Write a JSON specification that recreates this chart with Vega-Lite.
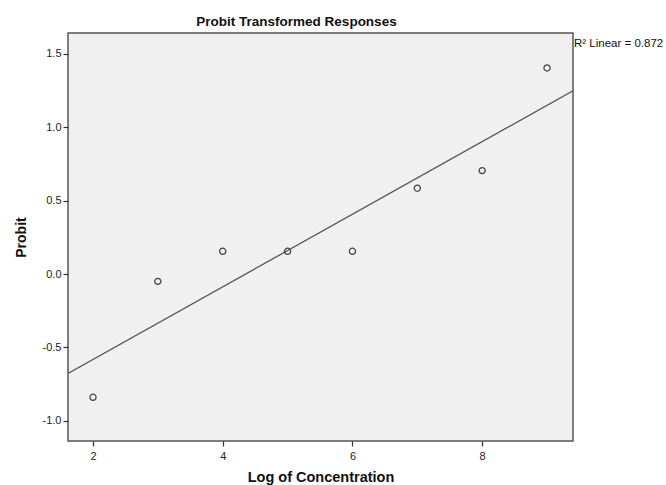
{
  "$schema": "https://vega.github.io/schema/vega-lite/v6.json",
  "autosize": "none",
  "width": 505,
  "height": 408,
  "padding": {"left": 68, "top": 33, "right": 93, "bottom": 44},
  "background": "white",
  "config": {
    "font": "Liberation Sans",
    "view": {"fill": "#F0F0F0", "stroke": "#555555", "strokeWidth": 1.5},
    "axis": {"grid": false, "domain": false, "tickColor": "#333333", "tickSize": 5, "tickWidth": 1.2, "labelColor": "#222222", "labelFontSize": 11, "labelFont": "Liberation Sans", "titleFont": "Liberation Sans", "titleFontWeight": "bold", "titleColor": "#111111", "titleFontSize": 14}
  },
  "title": {"text": "Probit Transformed Responses", "fontSize": 13.5, "font": "Liberation Sans", "fontWeight": "bold", "color": "#111111", "anchor": "middle", "dx": -24, "offset": 5},
  "data": {"values": [
    {"x": 2, "y": -0.84},
    {"x": 3, "y": -0.05},
    {"x": 4, "y": 0.155},
    {"x": 5, "y": 0.155},
    {"x": 6, "y": 0.155},
    {"x": 7, "y": 0.585},
    {"x": 8, "y": 0.705},
    {"x": 9, "y": 1.405}
  ]},
  "layer": [
    {
      "transform": [{"regression": "y", "on": "x", "extent": [1.615, 9.4]}],
      "mark": {"type": "line", "color": "#555555", "strokeWidth": 1.3, "clip": true},
      "encoding": {
        "x": {"field": "x", "type": "quantitative"},
        "y": {"field": "y", "type": "quantitative"}
      }
    },
    {
      "mark": {"type": "point", "shape": "circle", "filled": false, "size": 38, "stroke": "#444444", "strokeWidth": 1.3, "opacity": 1},
      "encoding": {
        "x": {"field": "x", "type": "quantitative", "scale": {"domain": [1.615, 9.4], "nice": false, "zero": false}, "axis": {"values": [2, 4, 6, 8], "format": "d", "title": "Log of Concentration", "titlePadding": 9, "labelPadding": 4, "titleFontSize": 14.5}},
        "y": {"field": "y", "type": "quantitative", "scale": {"domain": [-1.138, 1.643], "nice": false, "zero": false}, "axis": {"values": [-1.0, -0.5, 0.0, 0.5, 1.0, 1.5], "format": ".1f", "labelExpr": "replace(datum.label, '\u2212', '-')", "title": "Probit", "titlePadding": 14, "labelPadding": 2}}
      }
    },
    {
      "data": {"values": [{"label": "R\u00b2 Linear = 0.872"}]},
      "mark": {"type": "text", "align": "left", "baseline": "middle", "dx": 1, "dy": 11, "fontSize": 11.5, "color": "#111111", "clip": false},
      "encoding": {
        "x": {"datum": 9.4, "type": "quantitative"},
        "y": {"datum": 1.643, "type": "quantitative"},
        "text": {"field": "label"}
      }
    }
  ]
}
